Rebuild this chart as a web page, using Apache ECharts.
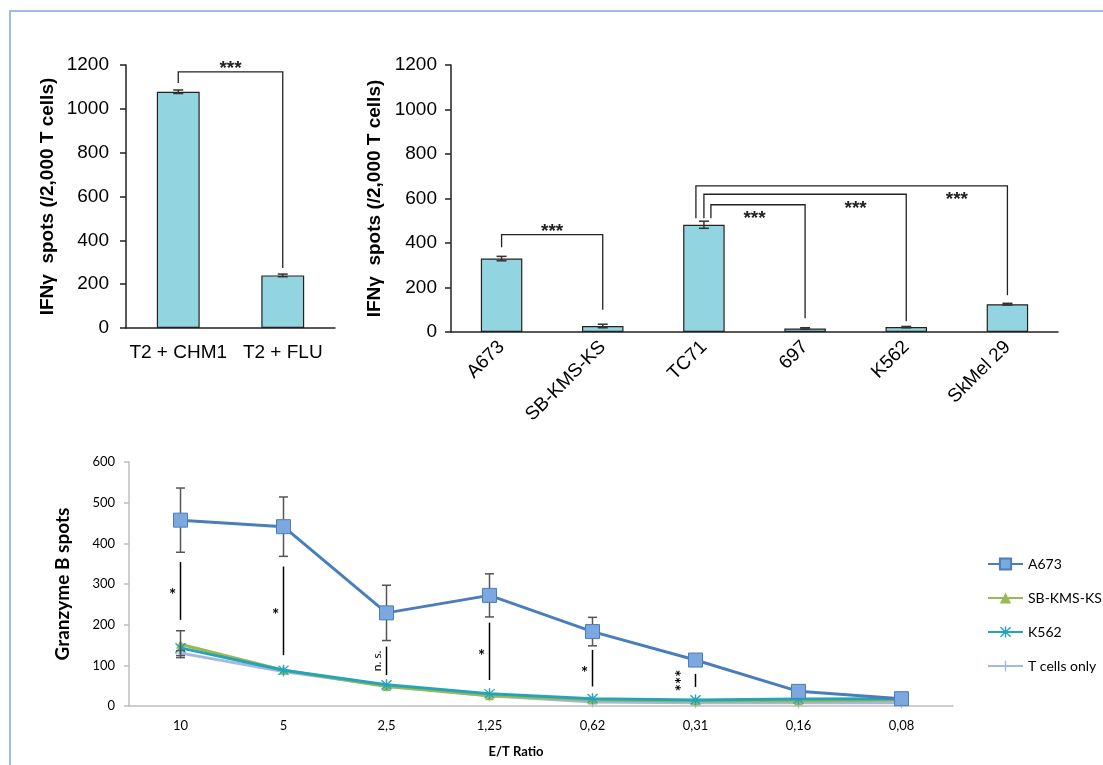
<!DOCTYPE html>
<html><head><meta charset="utf-8">
<script src="https://cdn.jsdelivr.net/npm/echarts@6/dist/echarts.min.js"></script>
<style>html,body{margin:0;padding:0;background:#fff}#c{width:1103px;height:765px}</style>
</head><body><div id="c"></div>
<script>
// ---------- DATA ----------
const peptideCats = ['T2 + CHM1', 'T2 + FLU'];
const peptideSpots = [1078, 240];
const peptideErr = [8, 6];
const pepBrFrom = [0];
const pepBrTo = [1];
const pepBrTop = [1169];
const pepBrLeftEnd = [1118];
const pepBrRightEnd = [274];
const pepBrLabel = ['***'];

const cellCats = ['A673', 'SB-KMS-KS', 'TC71', '697', 'K562', 'SkMel 29'];
const cellSpots = [330, 27, 482, 16, 22, 125];
const cellErr = [10, 8, 16, 3, 3, 4];
const cellBrFrom = [0, 2, 2, 2];
const cellBrTo = [1, 3, 4, 5];
const cellBrTop = [438, 572, 619, 657];
const cellBrLeftEnd = [381, 511, 511, 511];
const cellBrRightEnd = [100, 62, 48, 165];
const cellBrLabel = ['***', '***', '***', '***'];

const ratioCats = ['10', '5', '2,5', '1,25', '0,62', '0,31', '0,16', '0,08'];
const a673 = [457, 441, 229, 272, 183, 113, 36, 18];
const a673Err = [79, 73, 68, 53, 35, 0, 0, 0];
const sbkms = [152, 88, 48, 25, 15, 12, 12, 15];
const sbkmsErr = [33, 0, 0, 0, 0, 0, 0, 0];
const k562 = [143, 88, 52, 30, 18, 15, 17, 18];
const tOnly = [130, 85, 50, 25, 10, 8, 8, 8];
const tOnlyErr = [6, 0, 0, 0, 0, 0, 0, 0];
const sigCat = [0, 1, 2, 3, 4, 5];
const sigHigh = [354, 343, 146, 205, 138, 79];
const sigLow = [212, 125, 76, 64, 48, 47];
const sigText = ['*', '*', 'n. s.', '*', '*', '***'];

// ---------- STYLE ----------
const arial = '"Liberation Sans", Arial, sans-serif';
const lato = 'Lato, sans-serif';
const barColor = '#93D4E1';
const cellLegShift = [0, 7, 0, -8];
const cellLabelSide = ['above', 'below', 'below', 'below'];
const pepLabelSide = ['above'];
const plain = v => String(v);

const chart = echarts.init(document.getElementById('c'), null, {renderer: 'canvas'});

function errSeries(xi, vals, errs, color, cap, lw, z) {
  return {
    type: 'custom', xAxisIndex: xi, yAxisIndex: xi, z: z, silent: true,
    data: vals.map((v, i) => [i, v, errs[i]]),
    encode: {x: 0, y: 1},
    renderItem: (params, api) => {
      const i = api.value(0), v = api.value(1), e = api.value(2);
      if (!e) return null;
      const hi = api.coord([i, v + e]), lo = api.coord([i, v - e]);
      const x = hi[0];
      const st = {stroke: color, lineWidth: lw};
      return {type: 'group', children: [
        {type: 'line', shape: {x1: x, y1: hi[1], x2: x, y2: lo[1]}, style: st},
        {type: 'line', shape: {x1: x - cap / 2, y1: hi[1], x2: x + cap / 2, y2: hi[1]}, style: st},
        {type: 'line', shape: {x1: x - cap / 2, y1: lo[1], x2: x + cap / 2, y2: lo[1]}, style: st}
      ]};
    }
  };
}

function bracketSeries(xi, from, to, top, lEnd, rEnd, labels, legShift, side) {
  return {
    type: 'custom', xAxisIndex: xi, yAxisIndex: xi, z: 6, silent: true,
    data: from.map((f, k) => [f, top[k]]),
    encode: {x: 0, y: 1},
    renderItem: (params, api) => {
      const k = params.dataIndex;
      const pL = api.coord([from[k], top[k]]);
      const pR = api.coord([to[k], top[k]]);
      const lB = api.coord([from[k], lEnd[k]]);
      const rB = api.coord([to[k], rEnd[k]]);
      const pPrev = api.coord([to[k] - 1, top[k]]);
      const xl = pL[0] + legShift[k], xr = pR[0], y = pL[1];
      const mx = (pPrev[0] + pR[0]) / 2;
      const above = side[k] === 'above';
      return {type: 'group', children: [
        {type: 'polyline', shape: {points: [[xl, lB[1]], [xl, y], [xr, y], [xr, rB[1]]]},
          style: {stroke: '#222', lineWidth: 1.3, fill: 'none'}},
        {type: 'text', x: mx, y: above ? y - 3 : y + 14,
          style: {text: labels[k], font: 'bold 19px ' + arial, align: 'center', verticalAlign: 'middle', fill: '#222'}}
      ]};
    }
  };
}

function sigSeries() {
  return {
    type: 'custom', xAxisIndex: 2, yAxisIndex: 2, z: 7, silent: true,
    data: sigCat.map((c, k) => [c, sigHigh[k]]),
    encode: {x: 0, y: 1},
    renderItem: (params, api) => {
      const k = params.dataIndex;
      const a = api.coord([sigCat[k], sigHigh[k]]);
      const b = api.coord([sigCat[k], sigLow[k]]);
      const x = a[0];
      const my = (a[1] + b[1]) / 2;
      const t = sigText[k];
      const rot = t.length > 1;
      const stars = t.indexOf('*') >= 0;
      return {type: 'group', children: [
        {type: 'line', shape: {x1: x, y1: a[1], x2: x, y2: b[1]}, style: {stroke: '#000', lineWidth: 1.5}},
        {type: 'text', x: rot ? (stars ? x - 13 : x - 9) : x - 8, y: rot ? my : my + 5, rotation: rot ? Math.PI / 2 : 0,
          style: {text: t, font: (stars ? 'bold 17px ' : '12px ') + lato, align: 'center', verticalAlign: 'middle', fill: '#000'}}
      ]};
    }
  };
}

const blackAxis = {lineStyle: {color: '#222', width: 1.5}};
const topYAxisBase = {
  type: 'value', min: 0, max: 1200, interval: 200,
  splitLine: {show: false},
  axisLine: {show: true, lineStyle: {color: '#222', width: 1.5}},
  axisTick: {show: true, length: 6, lineStyle: {color: '#222', width: 1.5}},
  name: 'IFNγ  spots (/2,000 T cells)', nameLocation: 'middle', nameRotate: 90,
  nameTextStyle: {fontFamily: arial, fontWeight: 'bold', fontSize: 19, color: '#000'}
};

const option = {
  animation: false,
  backgroundColor: '#fff',
  graphic: [{type: 'polyline', shape: {points: [[10, 765], [10, 11], [1103, 11]]},
    style: {stroke: '#9DBCE3', lineWidth: 2, fill: 'none'}, z: 100}],
  grid: [
    {left: 126, top: 65, width: 209, height: 263, outerBoundsMode: 'none', containLabel: false},
    {left: 451, top: 65, width: 607, height: 267, outerBoundsMode: 'none', containLabel: false},
    {left: 129, top: 462, width: 824, height: 244, outerBoundsMode: 'none', containLabel: false}
  ],
  xAxis: [
    {type: 'category', gridIndex: 0, data: peptideCats,
      axisLine: blackAxis, axisTick: {length: 6, lineStyle: {color: '#222', width: 1.5}},
      axisLabel: {fontFamily: arial, fontSize: 19, color: '#000', margin: 15, interval: 0}},
    {type: 'category', gridIndex: 1, data: cellCats,
      axisLine: blackAxis, axisTick: {length: 6, lineStyle: {color: '#222', width: 1.5}},
      axisLabel: {fontFamily: arial, fontSize: 19, color: '#000', margin: 12, rotate: 45, interval: 0}},
    {type: 'category', gridIndex: 2, data: ratioCats,
      axisLine: {lineStyle: {color: '#BFBFBF', width: 1.5}},
      axisTick: {length: 4, lineStyle: {color: '#BFBFBF', width: 1.5}},
      axisLabel: {fontFamily: lato, fontSize: 13, color: '#000', margin: 13, interval: 0},
      name: 'E/T Ratio', nameLocation: 'middle', nameGap: 39,
      nameTextStyle: {fontFamily: lato, fontWeight: 'bold', fontSize: 13, color: '#000', padding: [0, 50, 0, 0]}}
  ],
  yAxis: [
    Object.assign({}, topYAxisBase, {gridIndex: 0, nameGap: 69,
      axisLabel: {fontFamily: arial, fontSize: 19, color: '#000', margin: 17, formatter: plain}}),
    Object.assign({}, topYAxisBase, {gridIndex: 1, nameGap: 64,
      axisLabel: {fontFamily: arial, fontSize: 19, color: '#000', margin: 14, formatter: plain}}),
    {type: 'value', gridIndex: 2, min: 0, max: 600, interval: 100,
      splitLine: {show: false},
      axisLine: {show: true, lineStyle: {color: '#BFBFBF', width: 1.5}},
      axisTick: {show: true, length: 5, lineStyle: {color: '#BFBFBF', width: 1.5}},
      axisLabel: {fontFamily: lato, fontSize: 13, color: '#000', margin: 14, formatter: plain},
      name: 'Granzyme B spots', nameLocation: 'middle', nameRotate: 90, nameGap: 57,
      nameTextStyle: {fontFamily: lato, fontWeight: 'bold', fontSize: 19, color: '#000'}}
  ],
  legend: {
    data: ['A673', 'SB-KMS-KS', 'K562', 'T cells only'],
    orient: 'vertical', left: 982, top: 552, itemWidth: 35, itemHeight: 14, itemGap: 20,
    textStyle: {fontFamily: lato, fontSize: 14, color: '#000'}
  },
  series: [
    {type: 'bar', xAxisIndex: 0, yAxisIndex: 0, data: peptideSpots, barWidth: '41%',
      itemStyle: {color: barColor, borderColor: '#222', borderWidth: 1.2}, silent: true},
    errSeries(0, peptideSpots, peptideErr, '#333', 10, 1.5, 4),
    bracketSeries(0, pepBrFrom, pepBrTo, pepBrTop, pepBrLeftEnd, pepBrRightEnd, pepBrLabel, [0], pepLabelSide),

    {type: 'bar', xAxisIndex: 1, yAxisIndex: 1, data: cellSpots, barWidth: '41%',
      itemStyle: {color: barColor, borderColor: '#222', borderWidth: 1.2}, silent: true},
    errSeries(1, cellSpots, cellErr, '#333', 10, 1.5, 4),
    bracketSeries(1, cellBrFrom, cellBrTo, cellBrTop, cellBrLeftEnd, cellBrRightEnd, cellBrLabel, cellLegShift, cellLabelSide),

    {type: 'line', name: 'A673', xAxisIndex: 2, yAxisIndex: 2, data: a673, z: 6,
      symbol: 'rect', symbolSize: 14,
      lineStyle: {color: '#4A7EBB', width: 3},
      itemStyle: {color: '#7CA7DF', borderColor: '#4A7EBB', borderWidth: 1}},
    {type: 'line', name: 'SB-KMS-KS', xAxisIndex: 2, yAxisIndex: 2, data: sbkms, z: 3,
      symbol: 'triangle', symbolSize: 9,
      lineStyle: {color: '#98B954', width: 3},
      itemStyle: {color: '#98B954'}},
    {type: 'line', name: 'K562', xAxisIndex: 2, yAxisIndex: 2, data: k562, z: 4,
      symbol: 'path://M4.4,0h1.2v10h-1.2z M1.2,0.4l8.4,8.4l-0.8,0.8l-8.4,-8.4z M8.8,0.4l0.8,0.8l-8.4,8.4l-0.8,-0.8z',
      symbolSize: 11,
      lineStyle: {color: '#25A4B8', width: 3},
      itemStyle: {color: '#25A4B8'}},
    {type: 'line', name: 'T cells only', xAxisIndex: 2, yAxisIndex: 2, data: tOnly, z: 2,
      symbol: 'path://M4.4,0h1.2v10h-1.2z M0,4.4h10v1.2H0z', symbolSize: 11,
      lineStyle: {color: '#A7B7E0', width: 3},
      itemStyle: {color: '#A7B7E0'}},
    errSeries(2, a673, a673Err, '#555', 9, 1.5, 5),
    errSeries(2, sbkms, sbkmsErr, '#555', 9, 1.5, 5),
    errSeries(2, tOnly, tOnlyErr, '#555', 9, 1.5, 5),
    sigSeries()
  ]
};
chart.setOption(option);
</script>
</body></html>
